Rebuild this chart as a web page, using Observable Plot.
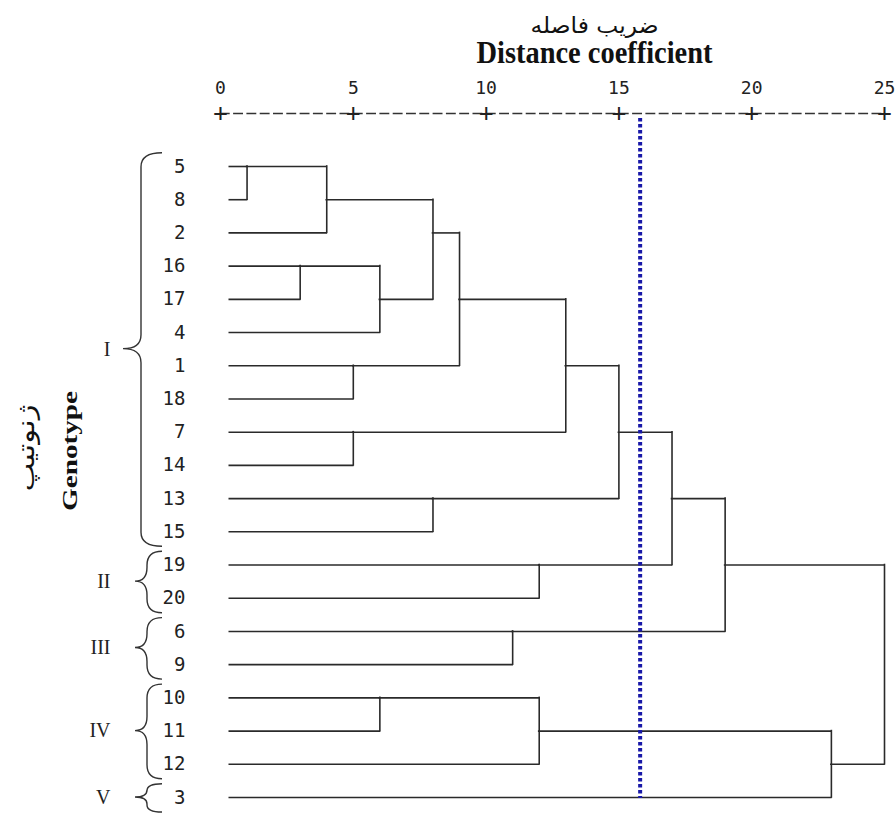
<!DOCTYPE html>
<html>
<head>
<meta charset="utf-8">
<script src="https://cdn.jsdelivr.net/npm/d3@7"></script>
<script src="https://cdn.jsdelivr.net/npm/@observablehq/plot@0.6"></script>
<style>
  html, body { margin: 0; padding: 0; background: #fff; }
</style>
</head>
<body>
<div id="chart"></div>
<script>
// ---- data ----
const leaves = ["5","8","2","16","17","4","1","18","7","14","13","15","19","20","6","9","10","11","12","3"];
const mergeIds  = ["m1","m2","m3","m4","m5","m6","m7","m8","m9","m10","m11","m12","m13","m14","m15","m16","m17","m18","m19"];
const mergeA    = ["5","16","m1","1","7","m2","10","m3","13","m8","6","19","m7","m10","m14","m15","m16","m13","m17"];
const mergeB    = ["8","17","2","18","14","4","11","m6","15","m4","9","20","12","m5","m9","m12","m11","3","m18"];
const mergeDist = [1,3,4,5,5,6,6,8,8,9,11,12,12,13,15,17,19,23,25];
const ticks = [0,5,10,15,20,25];
const cutoff = 15.8;
const groupNames = ["I","II","III","IV","V"];
const groupFirst = ["5","19","6","10","3"];
const groupLast  = ["15","20","9","12","3"];
const titleFa = "ضریب فاصله";
const titleEn = "Distance coefficient";
const yLabelFa = "ژنوتیپ";
const yLabelEn = "Genotype";
const leafStart = 0.35;

// ---- layout (dendrogram segments from merges) ----
const nodes = new Map();
leaves.forEach((l, i) => nodes.set(l, {x: leafStart, row: i}));
const horiz = [], vert = [];
mergeIds.forEach((id, i) => {
  const a = nodes.get(mergeA[i]), b = nodes.get(mergeB[i]), d = mergeDist[i];
  horiz.push({x1: a.x, x2: d, y: a.row});
  horiz.push({x1: b.x, x2: d, y: b.row});
  const lo = Math.min(a.row, b.row), hi = Math.max(a.row, b.row);
  vert.push({x: d, y1: lo, y2: hi});
  nodes.set(id, {x: d, row: Math.floor((lo + hi) / 2)});
});
const groups = groupNames.map((name, i) => {
  const r1 = leaves.indexOf(groupFirst[i]), r2 = leaves.indexOf(groupLast[i]);
  return {name, r1, r2, mid: (r1 + r2) / 2};
});

const lineColor = "#2a2a2a";

function braces(index, scales) {
  const g = d3.create("svg:g")
    .attr("fill", "none").attr("stroke", "#333").attr("stroke-width", 1.4);
  const x0 = scales.x(0);
  for (const grp of groups) {
    const y1 = scales.y(grp.r1 - 0.4), y2 = scales.y(grp.r2 + 0.45), ym = scales.y(grp.mid);
    const big = (y2 - y1) > 150;
    const e = x0 - 58, s = e - (big ? 21 : 15), t = s - (big ? 18 : 12);
    const r = Math.min(14, (y2 - y1) / 4);
    const p = `M${e},${y1} Q${s},${y1} ${s},${y1 + r} L${s},${ym - r} Q${s},${ym} ${t},${ym} ` +
              `Q${s},${ym} ${s},${ym + r} L${s},${y2 - r} Q${s},${y2} ${e},${y2}`;
    g.append("path").attr("d", p);
  }
  return g.node();
}

const chart = Plot.plot({
  width: 896,
  height: 816,
  marginTop: 113,
  marginBottom: 18,
  marginLeft: 220,
  marginRight: 12,
  x: {domain: [0, 25], axis: null},
  y: {domain: [0, 19], range: [166, 797], axis: null},
  style: {fontFamily: "DejaVu Sans Mono", background: "#fff", color: "#222"},
  marks: [
    // dashed axis line
    Plot.frame({anchor: "top", stroke: "#333", strokeWidth: 1.4, strokeDasharray: "8.5,4.8"}),
    Plot.text(ticks, {x: d => d, text: () => "+", frameAnchor: "top", lineAnchor: "middle",
      fontSize: 24, fill: "#222"}),
    Plot.text(ticks, {x: d => d, text: d => String(d), frameAnchor: "top", lineAnchor: "middle",
      dy: -25, fontSize: 18, fill: "#222"}),
    // titles
    Plot.text([titleFa], {text: d => d, frameAnchor: "top", lineAnchor: "middle", dx: 42, dy: -88,
      fontSize: 22, fontFamily: "DejaVu Sans", fill: "#111"}),
    Plot.text([titleEn], {text: d => d, frameAnchor: "top", lineAnchor: "middle", dx: 42, dy: -60,
      fontSize: 31, fontWeight: "bold", fontFamily: "Liberation Serif", fill: "#111"}),
    // y labels
    Plot.text([yLabelEn], {text: d => d, frameAnchor: "left", textAnchor: "middle", lineAnchor: "middle",
      dx: -151, dy: -5, rotate: -90, fontSize: 22, fontWeight: "bold", fontFamily: "Liberation Serif", fill: "#111"}),
    Plot.text([yLabelFa], {text: d => d, frameAnchor: "left", textAnchor: "middle", lineAnchor: "middle",
      dx: -194, dy: -8, rotate: -90, fontSize: 24, fontFamily: "DejaVu Sans", fill: "#111"}),
    // dendrogram
    Plot.ruleY(horiz, {x1: "x1", x2: "x2", y: "y", stroke: lineColor, strokeWidth: 1.6, strokeLinecap: "square"}),
    Plot.ruleX(vert, {x: "x", y1: "y1", y2: "y2", stroke: lineColor, strokeWidth: 1.6, strokeLinecap: "square"}),
    // leaf labels
    Plot.text(leaves, {y: (d, i) => i, text: d => d, frameAnchor: "left", dx: -35, textAnchor: "end",
      fontSize: 19, fill: "#222"}),
    // braces + group labels
    braces,
    Plot.text(groups, {y: "mid", text: "name", frameAnchor: "left", dx: -110, textAnchor: "end",
      fontSize: 20, fontFamily: "Liberation Serif", fill: "#222"}),
    // cut-off line
    Plot.ruleX([cutoff], {stroke: "#1818a8", strokeWidth: 4, strokeDasharray: "3.5,2.5", insetTop: 5})
  ]
});

// stretch a few texts to the reference lengths
const textLengths = {[titleFa]: 128, [titleEn]: 236, [yLabelEn]: 120, [yLabelFa]: 87};
d3.select(chart).selectAll("text").each(function () {
  const L = textLengths[this.textContent];
  if (L) { this.setAttribute("textLength", L); this.setAttribute("lengthAdjust", "spacingAndGlyphs"); }
});

document.getElementById("chart").appendChild(chart);
</script>
</body>
</html>
